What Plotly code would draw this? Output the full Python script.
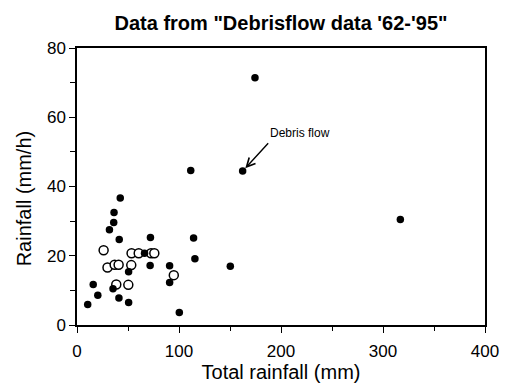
import plotly.graph_objects as go

# Filled circles (debris-flow events)
filled_x = [10.5, 15.9, 20.4, 31.8, 36.0, 36.3, 42.4, 41.4, 35.3, 41.1, 50.6, 50.6,
            66.2, 72.0, 71.7, 90.8, 90.8, 100.3, 111.5, 114.3, 115.6, 150.3, 162.4,
            174.5, 317.0]
filled_y = [5.9, 11.7, 8.6, 27.5, 29.6, 32.5, 36.7, 24.7, 10.5, 7.8, 6.5, 15.4,
            20.7, 25.3, 17.2, 17.1, 12.3, 3.6, 44.6, 25.1, 19.1, 17.0, 44.5,
            71.4, 30.5]

# Open circles (no debris flow)
open_x = [26.1, 29.9, 36.9, 40.8, 38.5, 50.3, 53.2, 53.5, 60.5, 72.6, 75.8, 94.9]
open_y = [21.6, 16.6, 17.4, 17.4, 11.7, 11.6, 17.3, 20.7, 20.7, 20.7, 20.7, 14.4]

x_ticks = [0, 100, 200, 300, 400]
y_ticks = [0, 20, 40, 60, 80]

FONT = "Liberation Sans, Arial, Helvetica, sans-serif"

L, R, T, B = 77, 15, 48, 60
W, H = 511, 387
PW, PH = W - L - R, H - T - B

fig = go.Figure()
fig.add_trace(go.Scatter(
    x=open_x, y=open_y, mode="markers",
    marker=dict(size=9, color="white", line=dict(color="black", width=1.5)),
    showlegend=False, cliponaxis=False))
fig.add_trace(go.Scatter(
    x=filled_x, y=filled_y, mode="markers",
    marker=dict(size=7.5, color="black"),
    showlegend=False, cliponaxis=False))

fig.add_annotation(x=165, y=45.3, ax=188.8, ay=52.9, xref="x", yref="y",
                   axref="x", ayref="y", text="", showarrow=True,
                   arrowhead=5, arrowsize=1.2, arrowwidth=1.4, arrowcolor="black")
fig.add_annotation(x=219, y=55.5, xref="x", yref="y", text="Debris flow",
                   showarrow=False, font=dict(family=FONT, size=12, color="black"))

# y-axis title placed as annotation (positioned like the reference)
fig.add_annotation(x=(22 - L) / PW, y=(H - B - 199) / PH, xref="paper", yref="paper",
                   text="Rainfall (mm/h)", textangle=-90, showarrow=False,
                   xanchor="center", yanchor="middle",
                   font=dict(family=FONT, size=20, color="black"))

axis_common = dict(
    showgrid=False, zeroline=False, showline=True, linecolor="black", linewidth=1.5,
    mirror=True, ticks="outside", ticklen=6, tickwidth=1.2, tickcolor="black",
    tickfont=dict(family=FONT, size=17, color="black"),
)

fig.update_layout(
    width=W, height=H,
    margin=dict(l=L, r=R, t=T, b=B),
    paper_bgcolor="white", plot_bgcolor="white",
    title=dict(text="<b>Data from \"Debrisflow data '62-'95\"</b>",
               x=281 / W, xanchor="center", y=1 - 23 / H, yanchor="middle",
               font=dict(family=FONT, size=20, color="black")),
    xaxis=dict(range=[0, 400], tickvals=x_ticks, ticktext=[str(v) for v in x_ticks],
               ticklabelstandoff=4,
               minor=dict(dtick=50, tick0=0, ticks="outside", ticklen=4, tickcolor="black", tickwidth=1),
               title=dict(text="Total rainfall (mm)", standoff=0,
                          font=dict(family=FONT, size=20, color="black")),
               **axis_common),
    yaxis=dict(range=[0, 80], tickvals=y_ticks, ticktext=[str(v) for v in y_ticks],
               minor=dict(dtick=10, tick0=0, ticks="outside", ticklen=5, tickcolor="black", tickwidth=1),
               **axis_common),
)

fig.write_html("out.html")
